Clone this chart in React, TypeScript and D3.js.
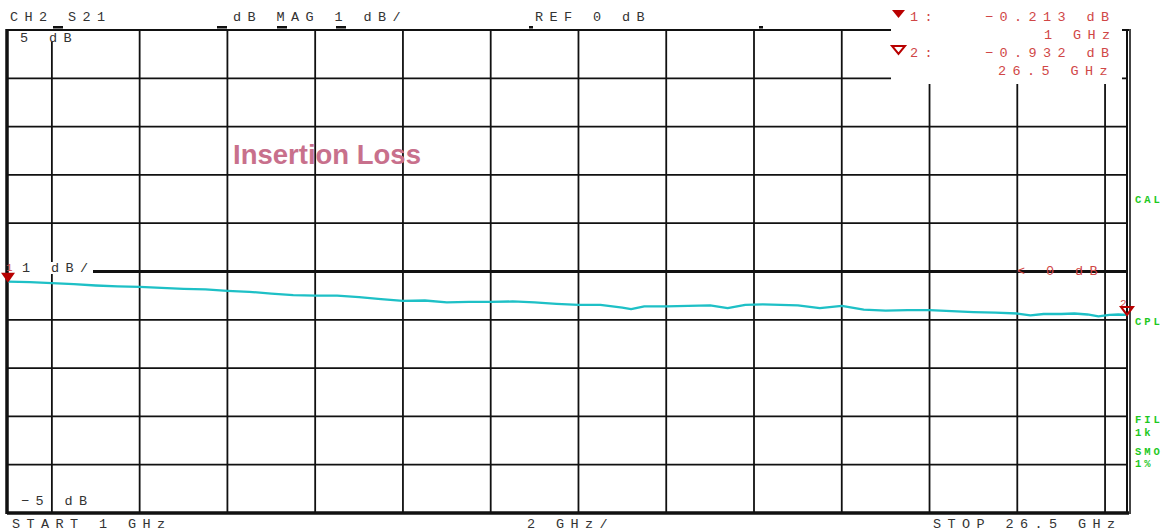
import React from "react";
import * as d3 from "d3";

// trace: S21 magnitude (dB) vs frequency (GHz)
const freqGHz = [
    1.0, 1.5, 2.0, 2.5, 3.0, 3.5, 4.0, 4.5, 5.0, 5.5, 6.0, 6.5, 7.0, 7.5, 8.0, 8.5, 9.0, 9.5,
    10.0, 10.5, 11.0, 11.5, 12.0, 12.5, 13.0, 13.5, 14.0, 14.5, 15.0, 15.2, 15.5, 16.0, 16.5,
    17.0, 17.4, 17.8, 18.2, 18.6, 19.0, 19.5, 20.0, 20.5, 21.0, 21.5, 22.0, 22.5, 23.0, 23.5,
    24.0, 24.3, 24.6, 25.0, 25.3, 25.6, 25.85, 26.1, 26.3, 26.5
];
const s21dB = [
    -0.21, -0.22, -0.24, -0.26, -0.29, -0.31, -0.32, -0.34, -0.36, -0.37, -0.4, -0.42, -0.46,
    -0.49, -0.5, -0.5, -0.53, -0.57, -0.61, -0.6, -0.64, -0.63, -0.63, -0.62, -0.64, -0.67,
    -0.69, -0.69, -0.75, -0.78, -0.72, -0.72, -0.71, -0.7, -0.76, -0.69, -0.68, -0.69, -0.7,
    -0.76, -0.71, -0.79, -0.81, -0.8, -0.8, -0.82, -0.84, -0.85, -0.87, -0.91, -0.88, -0.88,
    -0.87, -0.89, -0.93, -0.9, -0.89, -0.9
];

const gridFreqs = [2, 4, 6, 8, 10, 12, 14, 16, 18, 20, 22, 24, 26];
const gridLevels = [-4, -3, -2, -1, 0, 1, 2, 3, 4];

const headerTexts = [
    { text: "CH2 S21", x: 10 },
    { text: "dB  MAG 1 dB/", x: 233 },
    { text: "REF 0 dB", x: 535 }
];
const footerTexts = [
    { text: "START  1 GHz", x: 12 },
    { text: "2 GHz/", x: 527 },
    { text: "STOP 26.5 GHz", x: 933 }
];
const markerRows = [
    { label: "1:", value: "\u22120.213 dB", freq: "1 GHz", freqX: 1044, filled: true },
    { label: "2:", value: "\u22120.932 dB", freq: "26.5 GHz", freqX: 998, filled: false }
];
const sideLabels = [
    { text: "CAL", y: 203 },
    { text: "CPL", y: 325 },
    { text: "FIL", y: 423 },
    { text: "1k", y: 436 },
    { text: "SMO", y: 455 },
    { text: "1%", y: 467 }
];
const headerTicks = [53, 217, 277, 336, 529, 759];

const W = 1174;
const H = 531;
const left = 8, right = 1127, top = 30, bottom = 513;

const MONO = "'Liberation Mono', 'DejaVu Sans Mono', monospace";
const RED = "#d04646";
const DARKRED = "#b80000";
const TRACE = "#1ec0c6";
const GREEN = "#1ec81e";

export default function App() {
    const x = d3.scaleLinear().domain([1, 26.5]).range([left, right]);
    const y = d3.scaleLinear().domain([-5, 5]).range([bottom, top]);

    const points: [number, number][] = freqGHz.map((f, i) => [f, s21dB[i]]);
    const line = d3.line<[number, number]>()
        .x(d => x(d[0]))
        .y(d => y(d[1]));

    const monoText = {
        fontFamily: MONO,
        fontSize: 13.5,
        letterSpacing: 6.4
    };

    const startPt = points[0];
    const endPt = points[points.length - 1];

    return (
        <svg width={W} height={H} style={{ position: "absolute", left: 0, top: 0, background: "#fff" }}>
            {/* grid */}
            {gridFreqs.map(f => (
                <line key={"v" + f} x1={x(f)} x2={x(f)} y1={top} y2={bottom}
                      stroke="#111" strokeWidth={1.8} />
            ))}
            {gridLevels.filter(v => v !== 0).map(v => (
                <line key={"h" + v} x1={left} x2={right} y1={y(v)} y2={y(v)}
                      stroke="#111" strokeWidth={1.8} />
            ))}
            <line x1={93} x2={right} y1={y(0)} y2={y(0)} stroke="#111" strokeWidth={3} />

            {/* frame */}
            <line x1={left - 1} x2={right + 2} y1={top} y2={top} stroke="#111" strokeWidth={2} />
            <line x1={left - 1} x2={right + 2} y1={bottom} y2={bottom} stroke="#111" strokeWidth={3.5} />
            <line x1={left - 1} x2={left - 1} y1={top - 1} y2={bottom + 1} stroke="#111" strokeWidth={3.5} />
            <line x1={right} x2={right} y1={top - 1} y2={bottom + 1} stroke="#111" strokeWidth={2} />
            <line x1={right + 3} x2={right + 3} y1={top - 1} y2={bottom + 1} stroke="#444" strokeWidth={2} />

            {headerTicks.map(t => (
                <rect key={"t" + t} x={t} y={26} width={t > 500 ? 4 : 10} height={2.5} fill="#111" />
            ))}

            {/* trace */}
            <path d={line(points) ?? ""} fill="none" stroke={TRACE} strokeWidth={2.3}
                  strokeLinejoin="round" />

            {/* left scale labels */}
            <rect x={12} y={31} width={70} height={11} fill="#fff" />
            <text x={20} y={42} {...monoText} fill="#333">5  dB</text>
            <rect x={18} y={262} width={75} height={12} fill="#fff" />
            <text x={22} y={272} {...monoText} fill="#333">1 dB/</text>
            <text x={21} y={505} {...monoText} fill="#333">{"\u22125 dB"}</text>

            {/* marker 1 at start */}
            <text x={6} y={271} fontFamily={MONO} fontSize={11} fill={RED}>1</text>
            <path d={`M${x(startPt[0]) - 7},${y(startPt[1]) - 9} L${x(startPt[0]) + 7},${y(startPt[1]) - 9} L${x(startPt[0])},${y(startPt[1]) + 1} Z`}
                  fill={DARKRED} />

            {/* marker 2 at stop */}
            <text x={x(endPt[0]) - 7} y={y(endPt[1]) - 8} fontFamily={MONO} fontSize={11} fill={RED}>2</text>
            <path d={`M${x(endPt[0]) - 6},${y(endPt[1]) - 8} L${x(endPt[0]) + 6},${y(endPt[1]) - 8} L${x(endPt[0])},${y(endPt[1])} Z`}
                  fill="none" stroke={DARKRED} strokeWidth={2} />

            {/* reference position */}
            <text x={1017} y={275} {...monoText} fill={RED}>{"<  0  dB"}</text>

            <text x={233} y={164} fontFamily="'Liberation Sans', Arial, sans-serif" fontWeight="bold"
                  fontSize={27.5} fill="#c8708c">Insertion Loss</text>

            {/* header / footer */}
            {headerTexts.map(t => (
                <text key={t.text} x={t.x} y={21} {...monoText} fill="#333">{t.text}</text>
            ))}
            {footerTexts.map(t => (
                <text key={t.text} x={t.x} y={528} {...monoText} fill="#333">{t.text}</text>
            ))}

            {/* marker readout box */}
            <rect x={891} y={0} width={231} height={84} fill="#fff" />
            {markerRows.map((m, i) => {
                const y0 = 21 + i * 36;
                return (
                    <g key={m.label}>
                        <path d={`M892,${y0 - 11} L905,${y0 - 11} L898.5,${y0 - 3} Z`}
                              fill={m.filled ? DARKRED : "#fff"} stroke={DARKRED}
                              strokeWidth={m.filled ? 0 : 2} />
                        <text x={910} y={y0} {...monoText} fill={RED}>{m.label}</text>
                        <text x={985} y={y0} {...monoText} fill={RED}>{m.value}</text>
                        <text x={m.freqX} y={y0 + 18} {...monoText} fill={RED}>{m.freq}</text>
                    </g>
                );
            })}

            {/* instrument state */}
            {sideLabels.map(s => (
                <text key={s.text} x={1135} y={s.y} fontFamily={MONO} fontWeight="bold"
                      fontSize={10.5} letterSpacing={3} fill={GREEN}>{s.text}</text>
            ))}
        </svg>
    );
}
